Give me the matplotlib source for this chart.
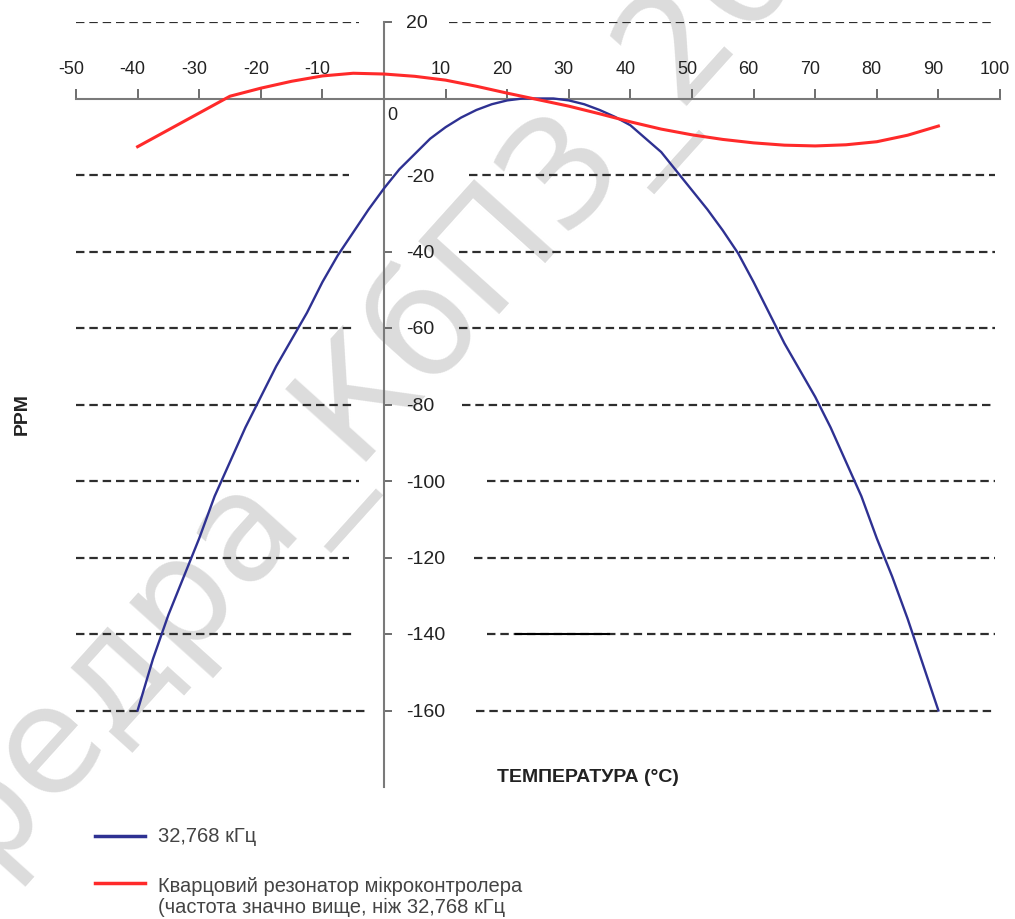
"""Frequency drift of a 32.768 kHz crystal vs. a microcontroller crystal."""

import matplotlib
matplotlib.use("Agg")
import matplotlib.pyplot as plt
from matplotlib.lines import Line2D
from matplotlib.transforms import ScaledTranslation

plt.rcParams['font.family'] = ['Liberation Sans', 'DejaVu Sans']

# temperatures (°C) and drift (ppm)
TEMPS_32K = [-40, -37.5, -35, -32.5, -30, -27.5, -25, -22.5, -20, -17.5, -15, -12.5,
             -10, -7.5, -5, -2.5, 0, 2.5, 5, 7.5, 10, 12.5, 15, 17.5, 20, 22.5, 25,
             27.5, 30, 32.5, 35, 37.5, 40, 42.5, 45, 47.5, 50, 52.5, 55, 57.5, 60,
             62.5, 65, 67.5, 70, 72.5, 75, 77.5, 80, 82.5, 85, 87.5, 90]
PPM_32K = [-160, -146.5, -135, -125, -115, -104, -95, -86, -78, -70, -63, -56,
           -48, -41, -35, -29, -23.5, -18.5, -14.5, -10.5, -7.5, -5, -3, -1.5, -0.5, 0, 0,
           0, -0.5, -1.5, -3, -4.8, -7, -10.5, -14, -19, -24, -29, -34.5, -40.5, -48,
           -56, -64, -71, -78, -86, -95, -104, -115, -125, -136, -148, -160]
TEMPS_MCU = [-40, -35, -30, -25, -20, -15, -10, -5, 0, 5, 10, 15, 20, 25,
             30, 35, 40, 45, 50, 55, 60, 65, 70, 75, 80, 85, 90]
PPM_MCU = [-12.6, -8.2, -3.8, 0.6, 2.7, 4.5, 5.9, 6.6, 6.4, 5.8, 4.8, 3.2, 1.4, -0.3,
           -2.0, -4.0, -6.1, -8.0, -9.5, -10.7, -11.6, -12.2, -12.4, -12.1, -11.3, -9.6, -7.2]

X_TICKS = [-50, -40, -30, -20, -10, 10, 20, 30, 40, 50, 60, 70, 80, 90, 100]
Y_TICKS = [20, -20, -40, -60, -80, -100, -120, -140, -160]
# gap left open in each grid line around the y labels
GRID_GAPS = [(-4, 10.6), (-5.7, 13.8), (-4.6, 12.2), (-4.6, 12.2), (-4.6, 12.6),
             (-4, 16.7), (-5.7, 14.6), (-5.2, 16.7), (-2.9, 15)]

LEGEND_LABELS = ["32,768 кГц",
                 "Кварцовий резонатор мікроконтролера\n(частота значно вище, ніж 32,768 кГц"]
BLUE = '#2e3192'
RED = '#ff2a2a'
W, H = 1015, 919


def fx(px):
    return px / W


def fy(py):
    return 1 - py / H


fig = plt.figure(figsize=(W / 100, H / 100), dpi=100)
ax = fig.add_axes([fx(76), fy(787), fx(1000) - fx(76), fy(22) - fy(787)])
ax.patch.set_visible(False)
ax.set_xlim(-50, 100)
ax.set_ylim(-180, 20)

# watermark behind everything
fig.text(fx(349), fy(404), "Кафедра_КбПЗ_2023", family='DejaVu Sans', fontsize=108,
         color='#dcdcdc', rotation=48, rotation_mode='anchor',
         ha='center', va='center', zorder=-1)

# axes through the origin
ax.spines['left'].set_visible(False)
ax.spines['bottom'].set_visible(False)
ax.spines['top'].set_position(('data', 0))
ax.spines['right'].set_position(('data', 0))
ax.spines['top'].set_bounds(-50, 100)
ax.spines['right'].set_bounds(-180, 20)
for side in ('top', 'right'):
    ax.spines[side].set_color('#7a7a7a')
    ax.spines[side].set_linewidth(1.5)

ax.xaxis.set_ticks_position('top')
ax.yaxis.set_ticks_position('right')
ax.set_xticks(X_TICKS)
ax.set_xticklabels([str(t) for t in X_TICKS])
ax.set_yticks(Y_TICKS)
ax.set_yticklabels([str(t) for t in Y_TICKS])
ax.tick_params(axis='x', direction='out', length=7, width=1.2, color='#555555',
               pad=8, labelsize=13, labelcolor='#222222')
ax.tick_params(axis='y', direction='out', length=6, width=1.2, color='#555555',
               pad=10, labelsize=14, labelcolor='#222222')
shift = ScaledTranslation(-5 / 100, 0, fig.dpi_scale_trans)
for lbl in ax.get_xticklabels():
    lbl.set_transform(lbl.get_transform() + shift)

ax.text(0.6, -2.3, "0", fontsize=13, color='#222222', ha='left', va='top')

# dashed grid lines with a gap around the y labels
for level, (gap_l, gap_r) in zip(Y_TICKS, GRID_GAPS):
    for x0, x1 in ((-50, gap_l), (gap_r, 99.2)):
        ax.plot([x0, x1], [level, level], color='#2e2e2e', lw=1.6,
                linestyle=(0, (3.8, 2.2)), zorder=1)
ax.plot([21.5, 36.6], [-140, -140], color='black', lw=1.5, zorder=1)

ax.plot(TEMPS_32K, PPM_32K, color=BLUE, lw=1.7, zorder=3)
ax.plot(TEMPS_MCU, PPM_MCU, color=RED, lw=2.2, zorder=3)

fig.text(fx(22), fy(414), "PPM", rotation=90, fontsize=14, fontweight='bold',
         color='#222222', ha='center', va='center')
fig.text(fx(588), fy(778), "ТЕМПЕРАТУРА (°C)", fontsize=14, fontweight='bold',
         color='#222222', ha='center', va='center')

# legend drawn by hand below the plot
fig.add_artist(Line2D([fx(95), fx(145)], [fy(836), fy(836)], color=BLUE, lw=2.5))
fig.text(fx(158), fy(836), LEGEND_LABELS[0], fontsize=14.5, color='#444444',
         ha='left', va='center')
fig.add_artist(Line2D([fx(95), fx(145)], [fy(883), fy(883)], color=RED, lw=2.5))
fig.text(fx(158), fy(877), LEGEND_LABELS[1], fontsize=14.5, color='#444444',
         ha='left', va='top', linespacing=1.15)

fig.savefig("out.png", dpi=100)
